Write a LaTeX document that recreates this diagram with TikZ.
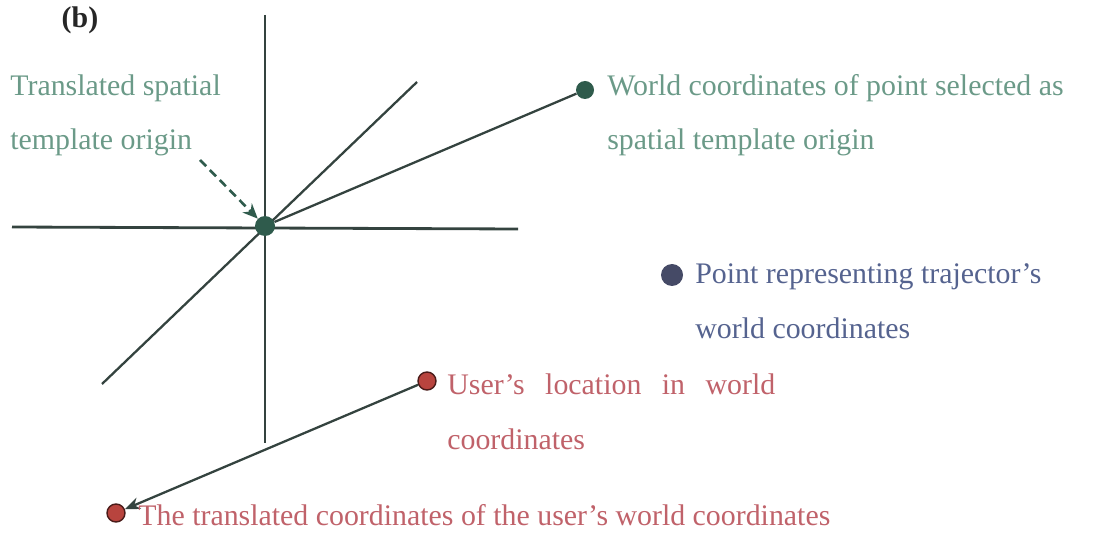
\documentclass[tikz,border=0pt]{standalone}
\usepackage{fontspec}
\setmainfont{Liberation Serif}
\usepackage{tikz}
\usetikzlibrary{arrows.meta,calc}
\definecolor{axisc}{HTML}{34433F}
\definecolor{greentxt}{HTML}{6B9A88}
\definecolor{greendot}{HTML}{2F5B4C}
\definecolor{bluetxt}{HTML}{55638F}
\definecolor{bluedot}{HTML}{454A66}
\definecolor{redtxt}{HTML}{C0626A}
\definecolor{reddot}{HTML}{B8443E}
\tikzset{
  axis/.style={line width=1.6pt, color=axisc},
  ray/.style={line width=1.3pt, color=axisc},
  lead/.style={-{Stealth[length=3mm,width=2.6mm]}, line width=1.5pt, dashed, dash pattern=on 5pt off 3pt, color=greendot},
  dot/.style={circle, inner sep=0pt, minimum size=0.36cm},
  lbl/.style={anchor=base west, align=left, inner sep=0pt, font=\fontsize{17}{31}\selectfont}
}
\begin{document}
\begin{tikzpicture}[x=0.02cm, y=-0.02cm]
\useasboundingbox (0,0) rectangle (1094,536);
\node[font=\fontsize{17}{20}\selectfont\bfseries, text=black!85] (tag) at (80,20) {(b)};
% axes through the origin
\coordinate (vtop) at (265,15);
\coordinate (vbot) at (265,443);
\coordinate (hleft) at (12,227);
\coordinate (hright) at (518,229);
\coordinate (dlow) at (102,384);
\coordinate (dhigh) at (417,82);
\draw[axis] (vtop) -- (vbot);
\draw[axis] (hleft) -- (hright);
\draw[ray] (dlow) -- (dhigh);
% points
\node[dot, fill=greendot, minimum size=0.4cm] (orig) at (265,226) {};
\node[dot, fill=greendot] (sel) at (585,90) {};
\node[dot, fill=bluedot, minimum size=0.44cm] (traj) at (672,275) {};
\node[dot, fill=reddot, draw=black!60!reddot, line width=0.8pt] (user) at (427,381) {};
\node[dot, fill=reddot, draw=black!60!reddot, line width=0.8pt] (tuser) at (116,513) {};
\draw[ray] (orig) -- (sel);
\draw[ray, -{Stealth[length=3mm,width=2.4mm]}] (user) -- (tuser);
% labels (base = last line)
\node[lbl, text=greentxt] (trans) at (10,150) {Translated spatial\\template origin};
\coordinate (tip) at (200,160);
\draw[lead] (tip) -- (orig);
\node[lbl, text=greentxt] (sellbl) at (607,150) {World coordinates of point selected as\\spatial template origin};
\node[lbl, text=bluetxt] (trajlbl) at (695,338) {Point representing trajector's\\world coordinates};
% text width: base = first line
\node[lbl, text=redtxt, text width=6.56cm] (userlbl) at (447,395) {User's\hfill location\hfill in\hfill world\\coordinates};
\node[lbl, text=redtxt] (tuserlbl) at (138,525) {The translated coordinates of the user's world coordinates};
\end{tikzpicture}
\end{document}
